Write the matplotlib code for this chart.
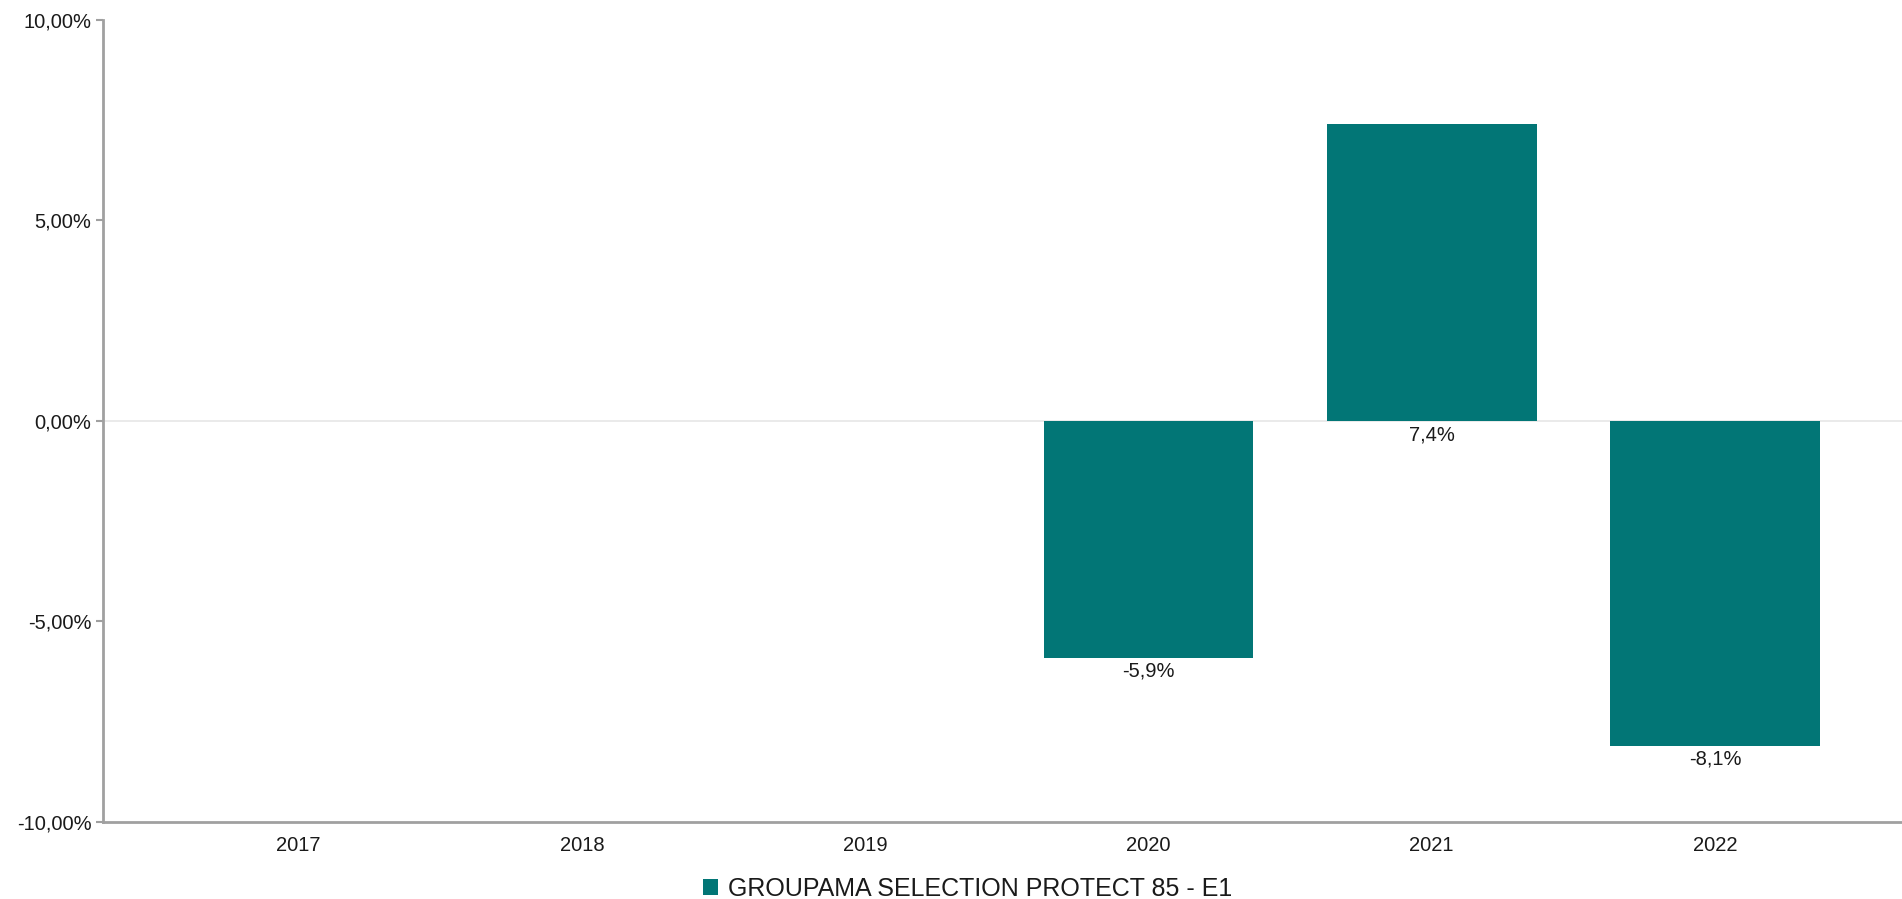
import matplotlib.pyplot as plt
import numpy as np

plt.rcParams['font.family'] = ['Liberation Sans', 'DejaVu Sans']

years = ['2017', '2018', '2019', '2020', '2021', '2022']
perf = [np.nan, np.nan, np.nan, -5.9, 7.4, -8.1]
series_name = 'GROUPAMA SELECTION PROTECT 85 - E1'
yticks = [-10, -5, 0, 5, 10]

teal = '#027676'
gray = '#a0a0a0'
txt = '#1a1a1a'

fig = plt.figure(figsize=(19.02, 8.99), dpi=100)
ax = fig.add_axes([0.0542, 0.0857, 0.9458, 0.8921])

x = np.arange(len(years))
bars = ax.bar(x, perf, width=0.74, color=teal, zorder=3, label=series_name)

for xi, v in zip(x, perf):
    if np.isnan(v):
        continue
    base = min(v, 0)
    ax.annotate(f'{v:.1f}%'.replace('.', ','), (xi, base), xytext=(0, -3),
                textcoords='offset points', ha='center', va='top',
                fontsize=14.5, color=txt, zorder=4)

ax.axhline(0, color='#e6e6e6', lw=1.2, zorder=1)

ax.set_ylim(-10, 10)
ax.set_xlim(-0.69, 5.66)
ax.set_yticks(yticks)
ax.set_yticklabels([f'{t:.2f}%'.replace('.', ',') for t in yticks])
ax.set_xticks(x)
ax.set_xticklabels(years)

for s in ['top', 'right']:
    ax.spines[s].set_visible(False)
for s in ['left', 'bottom']:
    ax.spines[s].set_color(gray)
    ax.spines[s].set_linewidth(2)

ax.tick_params(axis='y', length=5, width=1.5, color=gray, labelsize=14.5,
               labelcolor=txt, pad=3.5)
ax.tick_params(axis='x', length=0, labelsize=14.5, labelcolor=txt, pad=10)

fig.legend(handles=[bars], labels=[series_name], loc='center',
           bbox_to_anchor=(0.509, 0.0115), frameon=False, fontsize=18,
           handlelength=0.6, handleheight=0.6, handletextpad=0.4,
           labelcolor=txt)

fig.savefig('out.png', dpi=100)
